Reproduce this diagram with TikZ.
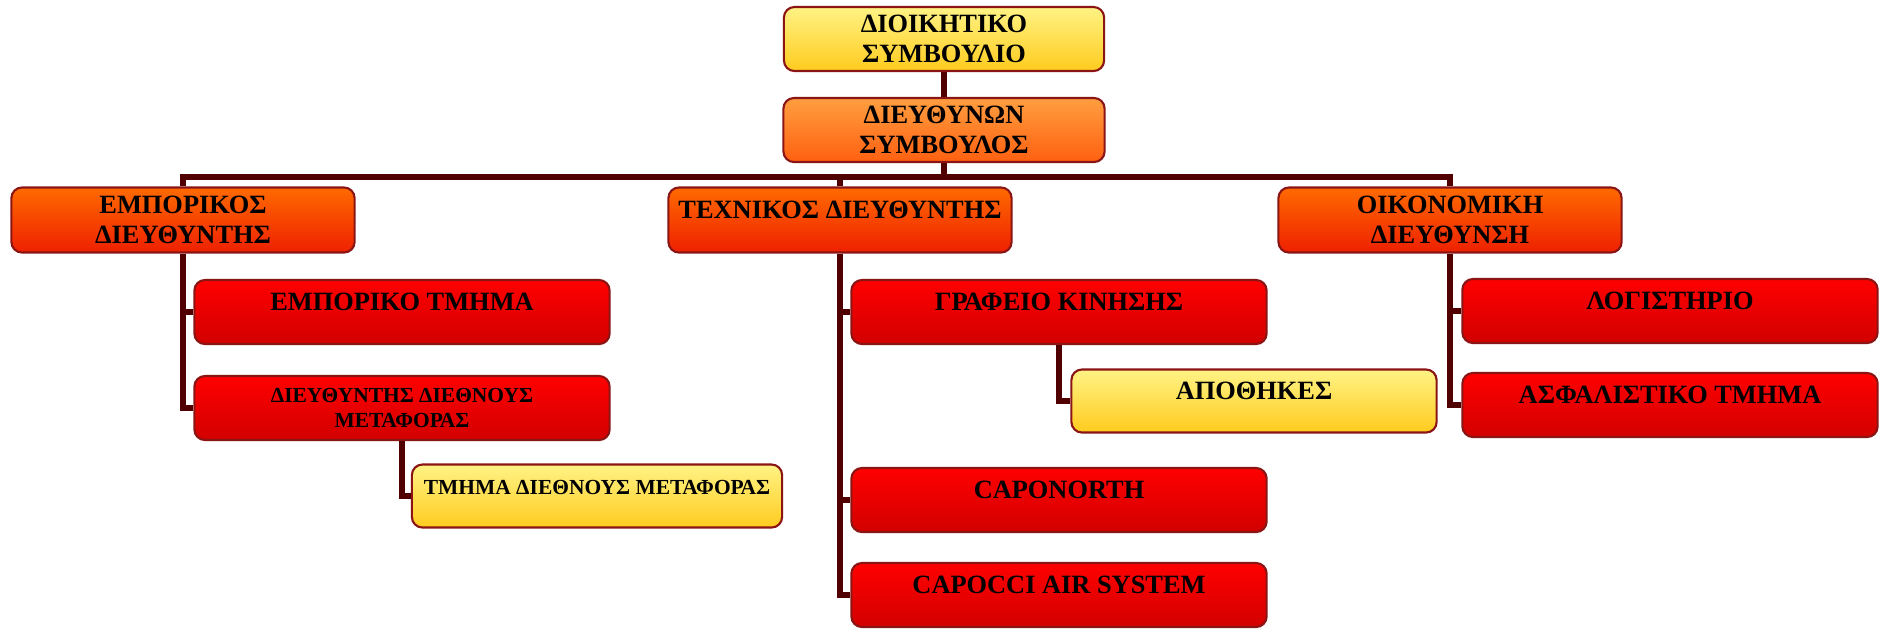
\documentclass[tikz,border=0pt]{standalone}
\usepackage{fontspec}
\setmainfont{Liberation Serif}
\usepackage{xcolor}
\usepackage{tikz}
\usetikzlibrary{positioning}

\definecolor{boxline}{HTML}{8B1414}
\definecolor{linkcol}{HTML}{500000}
\definecolor{yellowtop}{HTML}{FFF385}
\definecolor{yellowbot}{HTML}{FFCB1E}
\definecolor{ceotop}{HTML}{FF9E40}
\definecolor{ceobot}{HTML}{FF6010}
\definecolor{headtop}{HTML}{FF6A00}
\definecolor{headbot}{HTML}{EE2000}
\definecolor{redtop}{HTML}{FF0000}
\definecolor{redbot}{HTML}{D20000}

\tikzset{
        box/.style={rectangle, draw=boxline, line width=0.6pt, rounded corners=3pt, align=center, inner sep=0pt, font=\fontsize{7.5}{8.4}\selectfont\bfseries},
        boardbox/.style={box, top color=yellowtop, bottom color=yellowbot, minimum width=3.2cm, minimum height=0.64cm},
        ceobox/.style={box, top color=ceotop, bottom color=ceobot, minimum width=3.21cm, minimum height=0.64cm},
        headbox/.style={box, top color=headtop, bottom color=headbot, minimum width=3.43cm, minimum height=0.65cm},
        unitbox/.style={box, top color=redtop, bottom color=redbot, minimum width=4.15cm, minimum height=0.64cm},
        subbox/.style={box, top color=yellowtop, bottom color=yellowbot, minimum height=0.63cm},
        smalltext/.style={font=\fontsize{6.1}{7.2}\selectfont\bfseries},
        oneline/.style={text height=5.2pt, text depth=5.8pt},
        link/.style={draw=linkcol, line width=1.9pt},
    }

\begin{document}
\begin{tikzpicture}[x=0.01cm, y=-0.01cm]
        \useasboundingbox[fill=white] (0,0) rectangle (1883,629);

        % top of the chart
        \node[boardbox] (board) at (944,39) {ΔΙΟΙΚΗΤΙΚΟ\\ΣΥΜΒΟΥΛΙΟ};
        \node[ceobox] (ceo) at (944,130) {ΔΙΕΥΘΥΝΩΝ\\ΣΥΜΒΟΥΛΟΣ};

        % directors
        \node[headbox] (sales) at (183,220) {ΕΜΠΟΡΙΚΟΣ\\ΔΙΕΥΘΥΝΤΗΣ};
        \node[headbox, oneline] (tech) at (840,220) {ΤΕΧΝΙΚΟΣ ΔΙΕΥΘΥΝΤΗΣ};
        \node[headbox] (fin) at (1450,220) {ΟΙΚΟΝΟΜΙΚΗ\\ΔΙΕΥΘΥΝΣΗ};

        % sales units
        \node[unitbox, oneline] (salesdep) at (402,312) {ΕΜΠΟΡΙΚΟ ΤΜΗΜΑ};
        \node[unitbox, smalltext] (freighthead) at (402,408) {ΔΙΕΥΘΥΝΤΗΣ ΔΙΕΘΝΟΥΣ\\ΜΕΤΑΦΟΡΑΣ};
        \node[subbox, smalltext, oneline, minimum width=3.7cm] (freightdep) at (597,496) {ΤΜΗΜΑ ΔΙΕΘΝΟΥΣ ΜΕΤΑΦΟΡΑΣ};

        % technical units
        \node[unitbox, oneline] (traffic) at (1059,312) {ΓΡΑΦΕΙΟ ΚΙΝΗΣΗΣ};
        \node[subbox, oneline, minimum width=3.65cm] (stores) at (1254,401) {ΑΠΟΘΗΚΕΣ};
        \node[unitbox, oneline] (caponorth) at (1059,500) {CAPONORTH};
        \node[unitbox, oneline] (capocci) at (1059,595) {CAPOCCI AIR SYSTEM};

        % finance units
        \node[unitbox, oneline] (accounts) at (1670,311) {ΛΟΓΙΣΤΗΡΙΟ};
        \node[unitbox, oneline] (insurance) at (1670,405) {ΑΣΦΑΛΙΣΤΙΚΟ ΤΜΗΜΑ};

        % connectors
        \draw[link] (board) -- (ceo);
        \draw[link] (ceo.south) -- ++(0,14) coordinate (bus);
        \draw[link] (sales.north) |- (bus) -| (fin.north);
        \draw[link] (tech.north) -- (tech.north |- bus);

        \draw[link] (sales.south) |- (salesdep.west);
        \draw[link] (sales.south) |- (freighthead.west);
        \draw[link] (freighthead.south) |- (freightdep.west);

        \draw[link] (tech.south) |- (traffic.west);
        \draw[link] (tech.south) |- (caponorth.west);
        \draw[link] (tech.south) |- (capocci.west);
        \draw[link] (traffic.south) |- (stores.west);

        \draw[link] (fin.south) |- (accounts.west);
        \draw[link] (fin.south) |- (insurance.west);
    \end{tikzpicture}
\end{document}
